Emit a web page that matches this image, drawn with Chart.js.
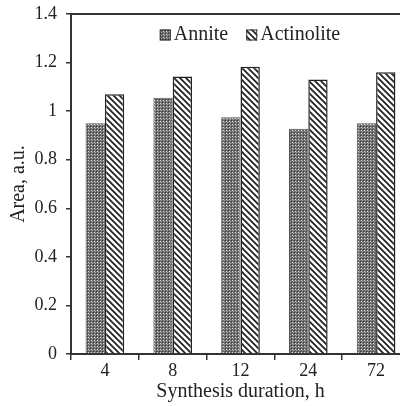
<!DOCTYPE html>
<html>
<head>
<meta charset="utf-8">
<script src="https://cdn.jsdelivr.net/npm/chart.js@4"></script>
<style>
  html, body { margin: 0; padding: 0; background: #fff; overflow: hidden; }
  #wrap { width: 400px; height: 406px; overflow: hidden; }
</style>
</head>
<body>
<div id="wrap"><canvas id="areaChart" width="410" height="406"></canvas></div>
<script>
// Data
const durations = ['4', '8', '12', '24', '72'];
const anniteArea = [0.95, 1.055, 0.975, 0.928, 0.95];
const actinoliteArea = [1.07, 1.143, 1.183, 1.13, 1.16];
const yTicks = [0, 0.2, 0.4, 0.6, 0.8, 1, 1.2, 1.4];

const AXIS = '#333';
const TEXT = '#222';
const FONT = 'Liberation Serif';

// Dotted lattice texture for Annite
function makeCheckerPattern() {
    const c = document.createElement('canvas');
    c.width = 3; c.height = 3;
    const g = c.getContext('2d');
    g.fillStyle = '#6c6c6c';
    g.fillRect(0, 0, 3, 3);
    g.fillStyle = '#dcdcdc';
    g.fillRect(1, 1, 1, 1);
    g.fillStyle = '#383838';
    g.fillRect(0, 0, 1, 1);
    g.fillStyle = '#a0a0a0';
    g.fillRect(2, 2, 1, 1);
    return g.createPattern(c, 'repeat');
}

// Back-slash stripes for Actinolite
function makeStripePattern() {
    const s = 6;
    const c = document.createElement('canvas');
    c.width = s; c.height = s;
    const g = c.getContext('2d');
    g.fillStyle = '#fff';
    g.fillRect(0, 0, s, s);
    g.strokeStyle = '#222';
    g.lineWidth = 1.8;
    g.beginPath();
    g.moveTo(-1, -1); g.lineTo(s + 1, s + 1);
    g.moveTo(-1, s - 1); g.lineTo(1, s + 1);
    g.moveTo(s - 1, -1); g.lineTo(s + 1, 1);
    g.stroke();
    return g.createPattern(c, 'repeat');
}

// top frame line like the original plot box (no right edge)
const topLine = {
    id: 'topLine',
    afterDraw(chart) {
        const { ctx, chartArea } = chart;
        ctx.save();
        ctx.strokeStyle = AXIS;
        ctx.lineWidth = 2;
        ctx.beginPath();
        ctx.moveTo(chartArea.left, chartArea.top);
        ctx.lineTo(chartArea.right, chartArea.top);
        ctx.stroke();
        ctx.restore();
    }
};

// Legend drawn inside the plot area, on one row, near the top
const innerLegend = {
    id: 'innerLegend',
    afterDraw(chart) {
        const { ctx, chartArea } = chart;
        const box = 11, gap = 3, spacing = 18;
        ctx.save();
        ctx.font = '20px "' + FONT + '"';
        ctx.textBaseline = 'middle';
        const items = chart.data.datasets.map(ds => ({
            ds, w: box + gap + ctx.measureText(ds.label).width
        }));
        const total = items.reduce((s, it) => s + it.w, 0) + spacing * (items.length - 1);
        const cx = chartArea.left + (chartArea.right - chartArea.left) * 0.528;
        const cy = chartArea.top + 21;
        let x = cx - total / 2;
        items.forEach(it => {
            ctx.fillStyle = it.ds.backgroundColor;
            ctx.fillRect(x, cy - box / 2, box, box);
            ctx.strokeStyle = '#333';
            ctx.lineWidth = 1;
            ctx.strokeRect(x + 0.5, cy - box / 2 + 0.5, box - 1, box - 1);
            ctx.fillStyle = TEXT;
            ctx.fillText(it.ds.label, x + box + gap, cy);
            x += it.w + spacing;
        });
        ctx.restore();
    }
};

const ctx = document.getElementById('areaChart').getContext('2d');
new Chart(ctx, {
    type: 'bar',
    data: {
        labels: durations,
        datasets: [
            {
                label: 'Annite',
                data: anniteArea,
                backgroundColor: makeCheckerPattern(),
                borderColor: '#555',
                borderWidth: 1
            },
            {
                label: 'Actinolite',
                data: actinoliteArea,
                backgroundColor: makeStripePattern(),
                borderColor: '#222',
                borderWidth: 1.5
            }
        ]
    },
    options: {
        responsive: false,
        animation: false,
        devicePixelRatio: 1,
        layout: { padding: { top: 14, right: 0, left: 0, bottom: 0 } },
        datasets: {
            bar: { categoryPercentage: 0.57, barPercentage: 1 }
        },
        plugins: {
            legend: { display: false },
            tooltip: { enabled: false }
        },
        scales: {
            x: {
                grid: {
                    offset: true,
                    drawOnChartArea: false,
                    drawTicks: true,
                    tickLength: 6,
                    color: AXIS,
                    lineWidth: 1.5
                },
                border: { display: true, color: AXIS, width: 2 },
                ticks: {
                    color: TEXT,
                    padding: 0,
                    font: { family: FONT, size: 18 }
                },
                title: {
                    display: true,
                    text: 'Synthesis duration, h',
                    color: TEXT,
                    padding: { top: 0, bottom: 2 },
                    font: { family: FONT, size: 20 }
                },
                afterFit(scale) {
                    scale.height = 52;
                    scale.paddingLeft = 0;
                    scale.paddingRight = 0;
                }
            },
            y: {
                min: 0,
                max: 1.4,
                afterBuildTicks(scale) {
                    scale.ticks = yTicks.map(v => ({ value: v }));
                },
                grid: {
                    drawOnChartArea: false,
                    drawTicks: true,
                    tickLength: 5,
                    color: AXIS,
                    lineWidth: 1.5
                },
                border: { display: true, color: AXIS, width: 2 },
                ticks: {
                    color: TEXT,
                    padding: 9,
                    font: { family: FONT, size: 18 },
                    callback: v => String(Math.round(v * 10) / 10)
                },
                title: {
                    display: true,
                    text: 'Area, a.u.',
                    color: TEXT,
                    padding: { top: 7, bottom: 0 },
                    font: { family: FONT, size: 20 }
                },
                afterFit(scale) {
                    scale.width = 71;
                    scale.paddingTop = 0;
                    scale.paddingBottom = 0;
                }
            }
        }
    },
    plugins: [topLine, innerLegend]
});
</script>
</body>
</html>
